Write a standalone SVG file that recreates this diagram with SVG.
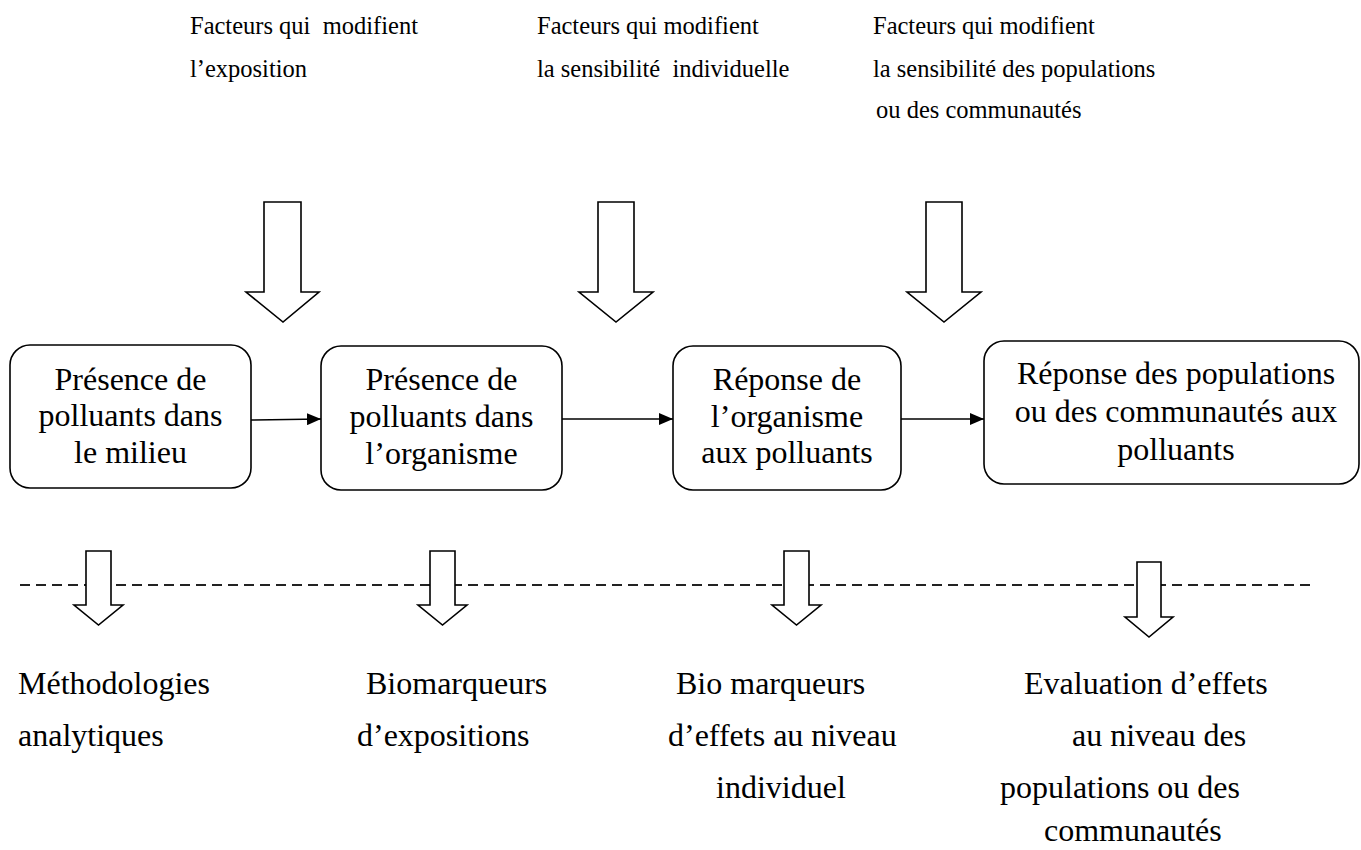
<svg xmlns="http://www.w3.org/2000/svg" width="1361" height="850" viewBox="0 0 1361 850">
<style>
text{font-family:"Liberation Serif","Times New Roman",serif;fill:#000;white-space:pre}
.top{font-size:24.5px}
.box{font-size:32px;text-anchor:middle}
.bot{font-size:32px}
.node{fill:#fff;stroke:#000;stroke-width:1.6}
.blk{fill:#fff;stroke:#000;stroke-width:1.6;stroke-linejoin:miter}
.con{stroke:#000;stroke-width:1.4;fill:none}
.dash{stroke:#222;stroke-width:2;stroke-dasharray:10 6;fill:none}
</style>
<defs>
<marker id="ah" viewBox="0 0 14 12" refX="14" refY="6" markerWidth="14" markerHeight="12" markerUnits="userSpaceOnUse" orient="auto">
<path d="M0,0 L14,6 L0,12 z" fill="#000"/>
</marker>
</defs>
<g id="labels-top">
<text class="top" x="190" y="34">Facteurs qui  modifient</text>
<text class="top" x="190" y="77">l’exposition</text>
<text class="top" x="537" y="34">Facteurs qui modifient</text>
<text class="top" x="537" y="77">la sensibilité  individuelle</text>
<text class="top" x="873" y="34">Facteurs qui modifient</text>
<text class="top" x="873" y="77">la sensibilité des populations</text>
<text class="top" x="876" y="118">ou des communautés</text>
</g>
<g id="dashed-line"><line class="dash" x1="20" y1="585" x2="1316" y2="585"/></g>
<g id="block-arrows">
<polygon class="blk" points="264,202 301,202 301,292 319,292 283,322 246,292 264,292"/>
<polygon class="blk" points="598,202 634,202 634,292 653,292 616,322 579,292 598,292"/>
<polygon class="blk" points="926,202 962,202 962,292 981,292 944,322 907,292 926,292"/>
<polygon class="blk" points="86,551 111,551 111,605 123,605 98.5,625 74,605 86,605"/>
<polygon class="blk" points="430,551 455,551 455,605 467,605 442.5,625 418,605 430,605"/>
<polygon class="blk" points="784,551 809,551 809,605 821,605 796.5,625 772,605 784,605"/>
<polygon class="blk" points="1137,562 1161,562 1161,617 1173,617 1149,637 1125,617 1137,617"/>
</g>
<g id="n1">
<rect class="node" x="10" y="345" width="241" height="143" rx="20"/>
<text class="box" x="130.5" y="390">Présence de</text>
<text class="box" x="130.5" y="426">polluants dans</text>
<text class="box" x="130.5" y="463">le milieu</text>
</g>
<g id="n2">
<rect class="node" x="321" y="346" width="241" height="144" rx="20"/>
<text class="box" x="441.5" y="390">Présence de</text>
<text class="box" x="441.5" y="427">polluants dans</text>
<text class="box" x="441.5" y="464">l’organisme</text>
</g>
<g id="n3">
<rect class="node" x="673" y="346" width="228" height="144" rx="20"/>
<text class="box" x="787" y="390">Réponse de</text>
<text class="box" x="787" y="427">l’organisme</text>
<text class="box" x="787" y="463">aux polluants</text>
</g>
<g id="n4">
<rect class="node" x="984" y="341" width="375" height="143" rx="20"/>
<text class="box" x="1176" y="384">Réponse des populations</text>
<text class="box" x="1176" y="422">ou des communautés aux</text>
<text class="box" x="1176" y="460">polluants</text>
</g>
<g id="connectors">
<line class="con" x1="251" y1="420" x2="321" y2="419" marker-end="url(#ah)"/>
<line class="con" x1="562" y1="419" x2="673" y2="419" marker-end="url(#ah)"/>
<line class="con" x1="901" y1="419" x2="984" y2="419" marker-end="url(#ah)"/>
</g>
<g id="labels-bottom">
<text class="bot" x="18" y="694">Méthodologies</text>
<text class="bot" x="18" y="746">analytiques</text>
<text class="bot" x="366" y="694">Biomarqueurs</text>
<text class="bot" x="357" y="746">d’expositions</text>
<text class="bot" x="676" y="694">Bio marqueurs</text>
<text class="bot" x="668" y="746">d’effets au niveau</text>
<text class="bot" x="716" y="798">individuel</text>
<text class="bot" x="1024" y="694">Evaluation d’effets</text>
<text class="bot" x="1072" y="746">au niveau des</text>
<text class="bot" x="1000" y="798">populations ou des</text>
<text class="bot" x="1044" y="841">communautés</text>
</g>
</svg>
